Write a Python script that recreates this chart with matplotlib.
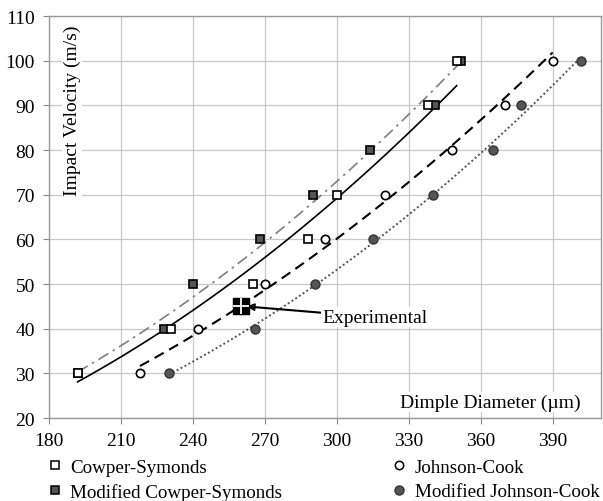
import matplotlib.pyplot as plt
from matplotlib.lines import Line2D
import numpy as np

plt.rcParams['font.family'] = ['Liberation Serif', 'DejaVu Serif']

# dimple diameter (um) vs impact velocity (m/s)
cs_d = [192, 231, 265, 288, 300, 338, 350]
cs_v = [30, 40, 50, 60, 70, 90, 100]
mcs_d = [192, 228, 240, 268, 290, 314, 341, 352]
mcs_v = [30, 40, 50, 60, 70, 80, 90, 100]
jc_d = [218, 242, 270, 295, 320, 348, 370, 390]
jc_v = [30, 40, 50, 60, 70, 80, 90, 100]
mjc_d = [230, 266, 291, 315, 340, 365, 377, 402]
mjc_v = [30, 40, 50, 60, 70, 80, 90, 100]
exp_d, exp_v = 260, 45

fig = plt.figure(figsize=(6.03, 5.02), dpi=100)
ax = fig.add_axes([0.081, 0.165, 0.915, 0.801])


def trend(d, v, x0, x1, **kw):
    # power-law trendline, V = a * D^b
    b, a = np.polyfit(np.log(d), np.log(v), 1)
    xs = np.linspace(x0, x1, 100)
    ax.plot(xs, np.exp(a) * xs ** b, zorder=2, **kw)


trend(mcs_d, mcs_v, 192, 352, color='#808080', lw=1.2, dashes=(7, 3, 1.5, 3))
trend(cs_d, cs_v, 192, 350, color='black', lw=1.2)
trend(jc_d, jc_v, 218, 390, color='black', lw=1.5, dashes=(5, 3))
trend(mjc_d, mjc_v, 230, 402, color='#555555', lw=1.4, dashes=(1, 1.3))

ax.plot(cs_d, cs_v, 's', ms=6, mfc='white', mec='black', mew=1.2, ls='none', zorder=4)
ax.plot(mcs_d, mcs_v, 's', ms=6, mfc='#555555', mec='black', mew=1.2, ls='none', zorder=3)
ax.plot(jc_d, jc_v, 'o', ms=6, mfc='white', mec='black', mew=1.2, ls='none', zorder=4)
ax.plot(mjc_d, mjc_v, 'o', ms=6.5, mfc='#555555', mec='#333333', mew=1, ls='none', zorder=3)

ax.plot(exp_d, exp_v, 's', ms=12, mfc='black', mec='black', zorder=5)
ax.plot(exp_d, exp_v, '+', ms=12, mec='white', mew=1.3, zorder=6)
ax.annotate('Experimental', xy=(exp_d + 2.5, exp_v), xytext=(294, 42.6),
            fontsize=14, va='center', ha='left',
            bbox=dict(fc='white', ec='none', pad=1),
            arrowprops=dict(arrowstyle='-|>', color='black', lw=1.5,
                            shrinkA=0, shrinkB=0, mutation_scale=10))

ax.set_xlim(180, 410)
ax.set_ylim(20, 110)
ax.set_xticks(range(180, 391, 30))
ax.set_yticks(range(20, 111, 10))
ax.tick_params(labelsize=14, length=4, color='#888888', direction='out', pad=6)
ax.grid(color='#c8c8c8', lw=0.9)
ax.set_axisbelow(True)
for s in ax.spines.values():
    s.set_color('#999999')
    s.set_linewidth(1)

ax.text(0.042, 0.98, 'Impact Velocity (m/s)', transform=ax.transAxes, rotation=90,
        va='top', ha='center', fontsize=14,
        bbox=dict(fc='white', ec='none', pad=1))
ax.text(0.964, 0.04, 'Dimple Diameter (\u00b5m)', transform=ax.transAxes,
        va='center', ha='right', fontsize=14,
        bbox=dict(fc='white', ec='none', pad=1))

handles = [
    Line2D([], [], marker='s', ls='none', ms=6, mfc='white', mec='black', mew=1.1),
    Line2D([], [], marker='s', ls='none', ms=6, mfc='#555555', mec='black', mew=1.1),
    Line2D([], [], marker='o', ls='none', ms=6, mfc='white', mec='black', mew=1.1),
    Line2D([], [], marker='o', ls='none', ms=6.5, mfc='#555555', mec='#333333', mew=1),
]
labels = ['Cowper-Symonds', 'Modified Cowper-Symonds', 'Johnson-Cook', 'Modified Johnson-Cook']
fig.legend(handles, labels, loc='upper left', bbox_to_anchor=(0.082, 0.085), ncol=2,
           frameon=False, fontsize=13.7, handlelength=0.6, handletextpad=0.5,
           columnspacing=5.85, labelspacing=0.38, borderaxespad=0, borderpad=0)

fig.savefig('out.png', dpi=100)
